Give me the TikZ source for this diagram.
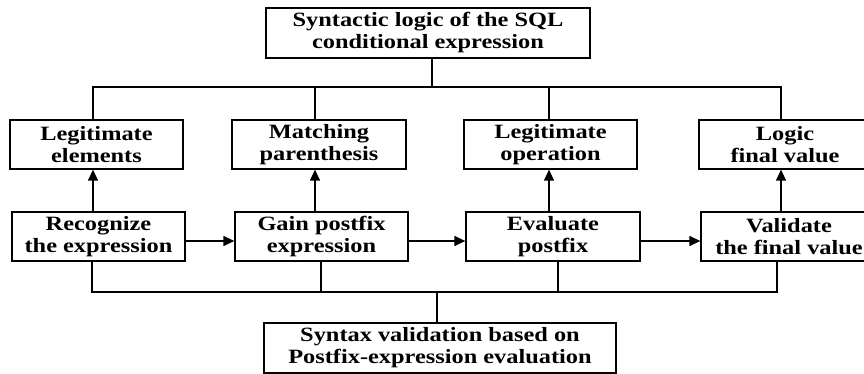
\documentclass[tikz,border=0pt]{standalone}
\usepackage{fontspec}
\setmainfont{Liberation Serif}[FakeStretch=1.2]
\usetikzlibrary{arrows.meta}
\begin{document}
\begin{tikzpicture}[x=1pt,y=-1pt,
  box/.style={draw, line width=1.3pt, inner sep=0pt, align=center, minimum height=49pt,
    font=\fontsize{20.3}{22}\selectfont\bfseries},
  con/.style={line width=1.3pt},
  arr/.style={con,-{Triangle[length=11pt,width=10pt]}}]
\useasboundingbox (0,0) rectangle (864,374);
\clip (0,0) rectangle (864,374);
% top
\node[box, minimum width=324pt, minimum height=50pt] (top) at (428,33) {Syntactic logic of the SQL\\conditional expression};
% row 1
\node[box, minimum width=173pt] (b1) at (96.5,144.5) {Legitimate\\elements};
\node[box, minimum width=174pt] (b2) at (319,144.5) {Matching\\parenthesis};
\node[box, minimum width=173pt] (b3) at (550.5,144.5) {Legitimate\\operation};
\node[box, minimum width=172pt] (b4) at (785,144.5) {Logic\\final value};
% row 2
\node[box, minimum width=173pt] (a1) at (98.5,236.5) {Recognize\\the expression};
\node[box, minimum width=173pt] (a2) at (321.5,236.5) {Gain postfix\\expression};
\node[box, minimum width=174pt] (a3) at (553,236.5) {Evaluate\\postfix};
\node[box, minimum width=176pt] (a4) at (789,236.5) {Validate\\the final value};
% bottom
\node[box, minimum width=352pt, minimum height=50pt] (bot) at (440,348) {Syntax validation based on\\Postfix-expression evaluation};
% bus coordinates
\coordinate (bus1) at (0,87);
\coordinate (bus2) at (0,292);
\coordinate (c1) at (93,0);
\coordinate (c2) at (315,0);
\coordinate (c3) at (549,0);
\coordinate (c4) at (781,0);
\coordinate (d1) at (92,0);
\coordinate (d2) at (321,0);
\coordinate (d3) at (558,0);
\coordinate (d4) at (777,0);
\coordinate (d0) at (437,0);
\coordinate (t0) at (432,0);
% top bus
\draw[con] (t0 |- top.south) -- (t0 |- bus1);
\draw[con] (c1 |- b1.north) -- (c1 |- bus1) -- (c4 |- bus1) -- (c4 |- b4.north);
\draw[con] (c2 |- bus1) -- (c2 |- b2.north);
\draw[con] (c3 |- bus1) -- (c3 |- b3.north);
% upward arrows
\draw[arr] (c1 |- a1.north) -- (c1 |- b1.south);
\draw[arr] (c2 |- a2.north) -- (c2 |- b2.south);
\draw[arr] (c3 |- a3.north) -- (c3 |- b3.south);
\draw[arr] (c4 |- a4.north) -- (c4 |- b4.south);
% horizontal arrows
\draw[arr] ([yshift=-4.5pt]a1.east) -- ([yshift=-4.5pt]a2.west);
\draw[arr] ([yshift=-4.5pt]a2.east) -- ([yshift=-4.5pt]a3.west);
\draw[arr] ([yshift=-4.5pt]a3.east) -- ([yshift=-4.5pt]a4.west);
% bottom bus
\draw[con] (d1 |- a1.south) -- (d1 |- bus2) -- (d4 |- bus2) -- (d4 |- a4.south);
\draw[con] (d2 |- a2.south) -- (d2 |- bus2);
\draw[con] (d3 |- a3.south) -- (d3 |- bus2);
\draw[con] (d0 |- bus2) -- (d0 |- bot.north);
\end{tikzpicture}
\end{document}
